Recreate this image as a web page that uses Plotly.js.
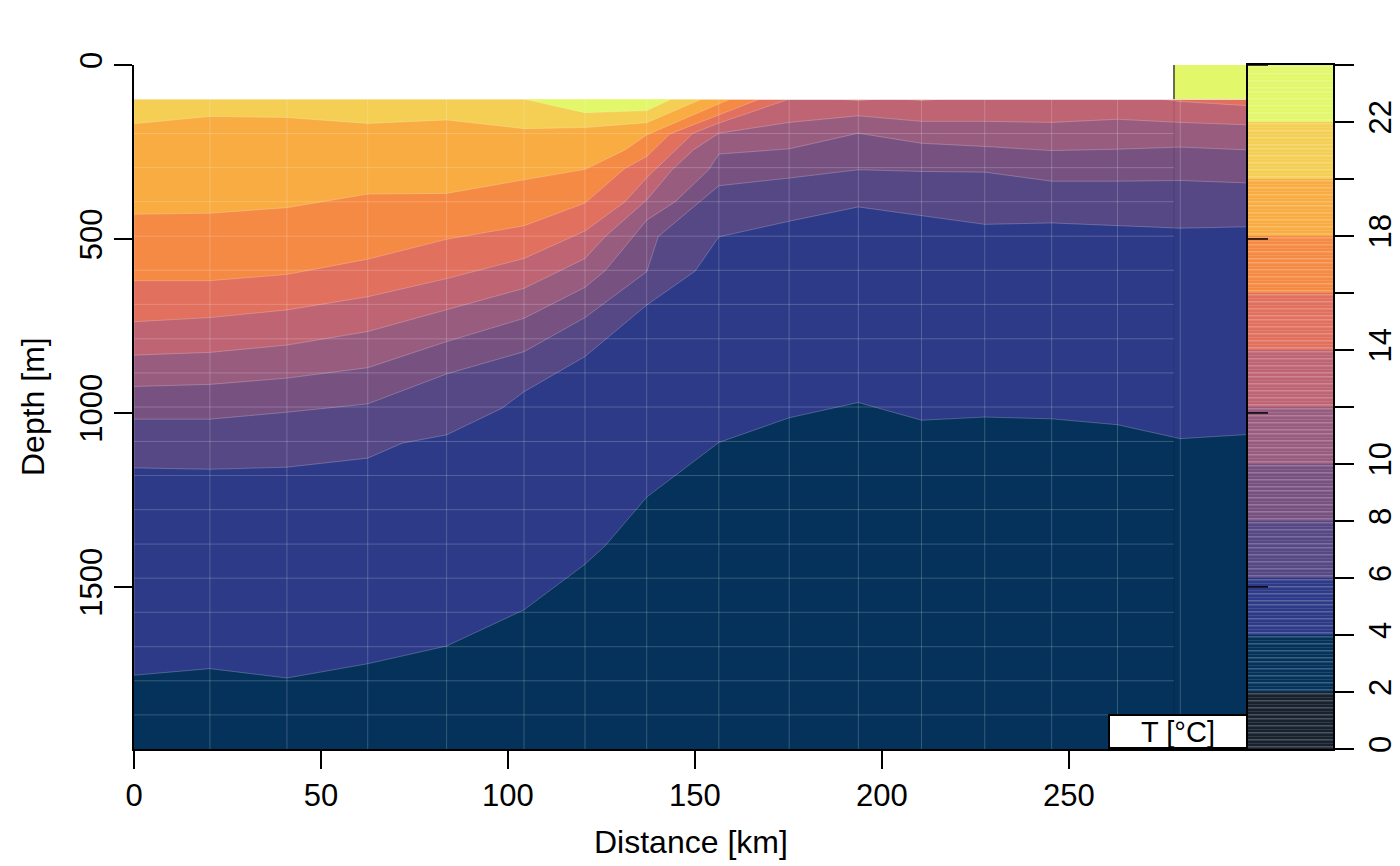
<!DOCTYPE html>
<html><head><meta charset="utf-8">
<script src="https://cdn.plot.ly/plotly-3.0.1.min.js"></script>
<style>html,body{margin:0;padding:0;background:#fff}</style>
</head><body><div id="plot" style="width:1400px;height:866px"></div>
<script>
// ---- data ----
const stationKm = [0, 20.3, 40.9, 62.5, 83.6, 104.3, 120.6, 137.1, 156.4, 175.2, 193.7, 210.6, 227.5, 245.4, 263.0, 279.8, 297.9];
const depthLevels = [98, 197, 295, 393, 492, 590, 688, 787, 885, 983, 1082, 1180, 1278, 1377, 1475, 1573, 1672, 1770, 1868];
const sectionKm = [0, 297.9];
const dataTopDepth = 98;
const dataBottomDepth = 1966;
const surfacePatchKm = [278.1, 297.9];
const surfacePatchDepth = [0, 98];
const seamEndKm = 278.1;
const distTicks = [0, 50, 100, 150, 200, 250];
const depthTicks = [0, 500, 1000, 1500];

const bandLevels = [0, 2, 4, 6, 8, 10, 12, 14, 16, 18, 20, 22, 24];
const bandColors = ['#18222e', '#04325a', '#2d3a87', '#564785', '#775281', '#985c7f',
                    '#bf6473', '#e1705e', '#f58a44', '#f8ac42', '#f4cf54', '#e2f76a'];
const cbLabels = ['0', '2', '4', '6', '8', '10', '', '14', '', '18', '', '22', ''];

const t22Km = [0, 104.3, 120.6, 137.1, 143.8, 297.9];
const t22Depth = [98, 98, 137, 131, 98, 98];
const t20Km = [0, 20.3, 40.9, 62.5, 83.6, 104.3, 120.6, 137.1, 151.8, 297.9];
const t20Depth = [169, 148, 151, 168, 158, 183, 180, 166, 98, 98];
const t18Km = [0, 20.3, 40.9, 62.5, 83.6, 104.3, 120.6, 131.3, 137.1, 159.4, 297.9];
const t18Depth = [429, 426, 410, 371, 369, 330, 300, 244, 201, 98, 98];
const t16Km = [0, 20.3, 40.9, 62.5, 83.6, 104.3, 120.6, 131.3, 137.1, 143.3, 156.4, 167.3, 297.9];
const t16Depth = [620, 620, 602, 558, 501, 462, 397, 297, 263, 198, 144, 98, 98];
const t14Km = [0, 20.3, 40.9, 62.5, 83.6, 104.3, 120.6, 131.3, 137.1, 149.5, 156.4, 175.2, 188, 193.7, 199, 205, 210.6, 216, 274.6, 279.8, 297.9];
const t14Depth = [738, 726, 704, 666, 614, 556, 477, 393, 324, 196, 167, 98, 98, 102, 98, 98, 102, 98, 98, 105, 117];
const t12Km = [0, 20.3, 40.9, 62.5, 83.6, 104.3, 120.6, 126, 137.1, 143.8, 149.6, 156.4, 175.2, 193.7, 210.6, 227.5, 245.4, 263.0, 279.8, 297.9];
const t12Depth = [834, 826, 805, 766, 704, 642, 556, 493, 388, 302, 244, 196, 165, 146, 162, 162, 165, 156, 165, 172];
const t10Km = [0, 20.3, 40.9, 62.5, 83.6, 104.3, 120.6, 126, 137.1, 144.7, 153.6, 156.4, 175.2, 193.7, 210.6, 227.5, 245.4, 263.0, 279.8, 297.9];
const t10Depth = [924, 918, 900, 870, 795, 728, 639, 591, 446, 393, 302, 256, 241, 196, 225, 234, 246, 242, 236, 244];
const t8Km = [0, 20.3, 40.9, 62.5, 83.6, 104.3, 120.6, 137.1, 140.2, 156.4, 175.2, 193.7, 210.6, 227.5, 245.4, 263.0, 279.8, 297.9];
const t8Depth = [1018, 1018, 998, 974, 888, 824, 726, 594, 493, 347, 325, 301, 306, 308, 334, 334, 332, 339];
const t6Km = [0, 20.3, 40.9, 62.5, 71.7, 83.6, 98.3, 104.3, 120.6, 137.1, 150, 156.4, 175.2, 193.7, 210.6, 227.5, 245.4, 263.0, 279.8, 297.9];
const t6Depth = [1158, 1162, 1156, 1130, 1087, 1063, 987, 939, 838, 690, 593, 494, 449, 408, 433, 458, 454, 461, 469, 465];
const t4Km = [0, 20.3, 40.9, 62.5, 83.6, 104.3, 120.6, 126, 137.1, 156.4, 175.2, 193.7, 210.6, 227.5, 245.4, 263.0, 279.8, 297.9];
const t4Depth = [1754, 1735, 1762, 1721, 1670, 1566, 1435, 1382, 1242, 1085, 1014, 970, 1021, 1012, 1017, 1034, 1074, 1062];

// ---- build traces ----
const FONT = 'Liberation Sans, Arial, Helvetica, sans-serif';
const isotherms = [
  [4, t4Km, t4Depth], [6, t6Km, t6Depth], [8, t8Km, t8Depth], [10, t10Km, t10Depth],
  [12, t12Km, t12Depth], [14, t14Km, t14Depth], [16, t16Km, t16Depth], [18, t18Km, t18Depth],
  [20, t20Km, t20Depth], [22, t22Km, t22Depth]
];
const traces = [];
traces.push({
  type: 'scatter', mode: 'lines', xaxis: 'x', yaxis: 'y',
  x: [sectionKm[0], sectionKm[1], sectionKm[1], sectionKm[0], sectionKm[0]],
  y: [dataTopDepth, dataTopDepth, dataBottomDepth, dataBottomDepth, dataTopDepth],
  fill: 'toself', fillcolor: bandColors[1], line: {width: 0}, hoverinfo: 'skip', showlegend: false
});
isotherms.forEach(([lev, km, dep]) => {
  const idx = bandLevels.indexOf(lev);
  const xs = [sectionKm[0]].concat(km, [sectionKm[1], sectionKm[0]]);
  const ys = [dataTopDepth].concat(dep, [dataTopDepth, dataTopDepth]);
  traces.push({
    type: 'scatter', mode: 'lines', xaxis: 'x', yaxis: 'y', x: xs, y: ys,
    fill: 'toself', fillcolor: bandColors[idx],
    line: {width: 0.8, color: 'rgba(255,255,255,0.28)'}, hoverinfo: 'skip', showlegend: false
  });
});
// surface patch at the last station
traces.push({
  type: 'scatter', mode: 'lines', xaxis: 'x', yaxis: 'y',
  x: [surfacePatchKm[0], surfacePatchKm[1], surfacePatchKm[1], surfacePatchKm[0], surfacePatchKm[0]],
  y: [surfacePatchDepth[0], surfacePatchDepth[0], surfacePatchDepth[1], surfacePatchDepth[1], surfacePatchDepth[0]],
  fill: 'toself', fillcolor: bandColors[11], line: {width: 0}, hoverinfo: 'skip', showlegend: false
});
// grid seams
const sx = [], sy = [];
stationKm.slice(1, -1).forEach(k => { sx.push(k, k, null); sy.push(dataTopDepth, dataBottomDepth, null); });
depthLevels.forEach(d => { sx.push(sectionKm[0], seamEndKm, null); sy.push(d, d, null); });
traces.push({
  type: 'scatter', mode: 'lines', xaxis: 'x', yaxis: 'y', x: sx, y: sy, connectgaps: false,
  line: {width: 1, color: 'rgba(255,255,255,0.2)'}, hoverinfo: 'skip', showlegend: false
});
traces.push({
  type: 'scatter', mode: 'lines', xaxis: 'x', yaxis: 'y',
  x: [seamEndKm, seamEndKm], y: [surfacePatchDepth[0], surfacePatchDepth[1]],
  line: {width: 1.5, color: 'rgba(0,0,0,0.75)'}, hoverinfo: 'skip', showlegend: false
});
traces.push({
  type: 'scatter', mode: 'lines', xaxis: 'x', yaxis: 'y',
  x: [seamEndKm, seamEndKm], y: [surfacePatchDepth[1], dataBottomDepth],
  line: {width: 1, color: 'rgba(0,0,0,0.15)'}, hoverinfo: 'skip', showlegend: false
});
// colour bar
const cbScale = [];
bandColors.forEach((c, i) => { cbScale.push([i / 12, c], [(i + 1) / 12, c]); });
traces.push({
  type: 'heatmap', xaxis: 'x2', yaxis: 'y2', x: [0, 1], y: bandLevels,
  z: bandLevels.slice(0, -1).map(v => [v + 1]),
  zmin: 0, zmax: 24, colorscale: cbScale, showscale: false, hoverinfo: 'skip'
});
const streakY = [], streakZ = [];
bandLevels.slice(0, -1).forEach((v, i) => {
  for (let j = 0; j < 16; j++) { streakY.push(v + 2 * j / 16); streakZ.push([1]); }
});
streakY.push(bandLevels[12]);
traces.push({
  type: 'heatmap', xaxis: 'x2', yaxis: 'y2', x: [0, 1], y: streakY, z: streakZ,
  zmin: 0, zmax: 1, colorscale: [[0, '#ffffff'], [1, '#ffffff']], showscale: false,
  opacity: 0.22, ygap: 2.5, hoverinfo: 'skip'
});

const xr = 1114 / 1199;
const shapes = depthTicks.map(v => ({
  type: 'line', xref: 'paper', yref: 'y', x0: xr, x1: xr + 20 / 1199, y0: v, y1: v,
  line: {color: '#000', width: 1.5}, layer: 'above'
}));
const layout = {
  width: 1400, height: 866,
  margin: {l: 134, r: 67, t: 65, b: 117},
  paper_bgcolor: '#ffffff', plot_bgcolor: '#ffffff',
  showlegend: false,
  font: {family: FONT, size: 31, color: '#000'},
  xaxis: {
    domain: [0, xr], range: [sectionKm[0], sectionKm[1]], anchor: 'y',
    tickvals: distTicks, ticks: 'outside', ticklen: 18, tickwidth: 1.5, tickcolor: '#000',
    showline: true, linewidth: 2, linecolor: '#000', showgrid: false, zeroline: false,
    tickfont: {size: 31, family: FONT}
  },
  xaxis3: {
    overlaying: 'x', side: 'top', anchor: 'y', range: [sectionKm[0], sectionKm[1]],
    tickvals: stationKm, ticks: 'outside', ticklen: 13, tickwidth: 1.5, tickcolor: '#000',
    showticklabels: false, showline: true, linewidth: 2, linecolor: '#000', showgrid: false, zeroline: false
  },
  yaxis: {
    domain: [0, 1], range: [dataBottomDepth, 0], anchor: 'x',
    tickvals: depthTicks, ticks: 'outside', ticklen: 18, tickwidth: 1.5, tickcolor: '#000',
    tickangle: -90, mirror: true,
    showline: true, linewidth: 2, linecolor: '#000', showgrid: false, zeroline: false,
    tickfont: {size: 31, family: FONT}
  },
  xaxis2: {
    domain: [xr, 1], range: [0, 1], anchor: 'y2', showticklabels: false, ticks: '',
    showline: true, mirror: true, linewidth: 2, linecolor: '#000', showgrid: false, zeroline: false
  },
  yaxis2: {
    domain: [0, 1], range: [0, 24], anchor: 'x2', side: 'right',
    tickvals: bandLevels, ticktext: cbLabels, ticks: 'outside', ticklen: 19, tickwidth: 1.5, tickcolor: '#000',
    tickangle: -90, showline: true, mirror: true, linewidth: 2, linecolor: '#000',
    showgrid: false, zeroline: false, tickfont: {size: 31, family: FONT}
  },
  shapes: shapes,
  annotations: [
    {text: 'Depth [m]', xref: 'paper', yref: 'paper', x: (33 - 134) / 1199, y: 0.5,
     textangle: -90, showarrow: false, xanchor: 'center', yanchor: 'middle', font: {size: 32, family: FONT}},
    {text: 'Distance [km]', xref: 'paper', yref: 'paper', x: (691 - 134) / 1199, y: (749 - 842) / 684,
     showarrow: false, xanchor: 'center', yanchor: 'middle', font: {size: 32, family: FONT}},
    {text: 'T [°C]', xref: 'paper', yref: 'paper', x: xr, y: 0, xanchor: 'right', yanchor: 'bottom',
     showarrow: false, width: 136, height: 31, valign: 'middle', bgcolor: '#ffffff', bordercolor: '#000', borderwidth: 2, borderpad: 0,
     font: {size: 29, family: FONT}}
  ]
};
Plotly.newPlot('plot', traces, layout, {staticPlot: true, displayModeBar: false});
</script></body></html>
